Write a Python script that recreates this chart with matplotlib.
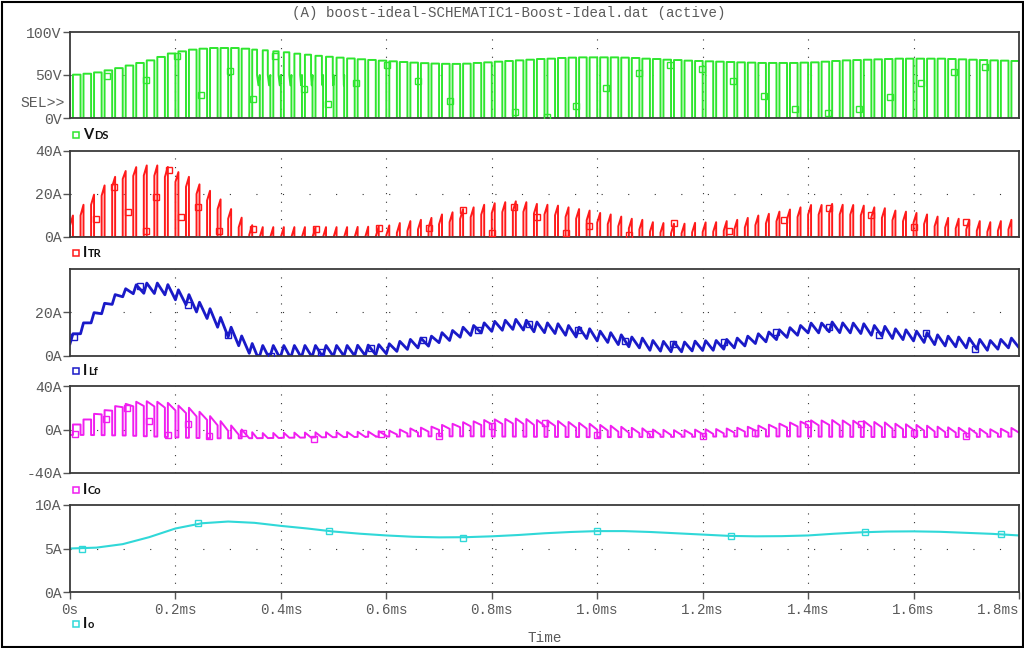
#!/usr/bin/env python3
"""
PSpice-style probe window: ideal boost converter, five stacked traces
(VDS, ITR, ILf, ICo, Io) over 1.8 ms.
"""

import matplotlib
matplotlib.use("Agg")
import matplotlib.pyplot as plt
from matplotlib.lines import Line2D
from matplotlib.patches import Rectangle

W, H = 1024, 648
MONO = "Liberation Mono"
SANS = "Lato"
TEXT_GREY = "#5a5a5a"

TITLE = "(A) boost-ideal-SCHEMATIC1-Boost-Ideal.dat (active)"

# switching cycles (time in ms)
T_SW = 0.02
DUTY = 0.28
N_CYC = 90

# output voltage level seen on VDS while the switch is off, per cycle [V]
vds_peak = [
    50.4, 51.5, 53.0, 55.4, 58.0, 61.0, 64.0, 67.0, 71.0, 75.0,
    77.5, 79.5, 80.6, 81.4, 81.4, 81.4, 80.6, 79.5, 78.7, 77.5,
    76.4, 74.8, 73.6, 72.3, 71.2, 70.2, 69.2, 68.3, 67.5, 66.7,
    65.9, 65.1, 64.4, 63.8, 63.3, 63.0, 62.9, 63.2, 64.0, 64.7,
    65.5, 66.3, 67.0, 67.8, 68.6, 69.0, 69.8, 70.2, 70.5, 70.5,
    70.5, 70.5, 70.2, 69.8, 69.0, 68.6, 67.8, 67.4, 66.7, 66.3,
    65.9, 65.5, 65.1, 64.7, 64.4, 64.0, 64.0, 64.0, 64.0, 64.4,
    64.7, 65.5, 66.3, 67.0, 67.4, 67.8, 68.2, 68.6, 69.0, 69.0,
    69.0, 69.0, 69.0, 68.6, 68.2, 67.8, 67.4, 67.0, 66.7, 66.3,
]

# inductor current at switch turn-on / turn-off, per cycle [A]
ilf_lo = [
    5.4, 10.0, 15.0, 19.2, 23.5, 27.0, 28.4, 28.6, 28.5, 27.9,
    25.6, 23.3, 20.0, 17.0, 13.0, 8.5, 4.5, 1.0, 0.0, 0.0,
    0.0, 0.0, 0.0, 0.0, 0.0, 0.0, 0.0, 0.0, 0.0, 0.3,
    0.8, 1.9, 2.8, 3.5, 4.3, 5.9, 6.9, 8.4, 9.2, 10.4,
    11.1, 11.6, 12.0, 11.7, 10.9, 10.5, 10.1, 9.3, 8.5, 7.8,
    6.7, 6.0, 5.0, 4.0, 3.5, 2.4, 2.0, 1.7, 1.7, 2.1,
    2.3, 2.4, 2.9, 3.5, 4.4, 5.5, 6.3, 7.3, 8.3, 9.3,
    10.4, 10.4, 10.9, 10.5, 10.4, 10.1, 9.3, 8.9, 7.8, 7.3,
    6.7, 6.0, 5.0, 4.4, 4.0, 3.5, 2.9, 2.4, 2.9, 3.5,
]
ilf_hi = [
    10.0, 15.0, 19.7, 24.0, 28.0, 30.7, 32.5, 33.3, 33.3, 32.6,
    30.2, 28.0, 24.5, 21.5, 17.5, 13.0, 9.0, 5.5, 4.6, 4.6,
    4.6, 4.6, 4.6, 4.6, 4.6, 4.6, 4.6, 4.7, 4.8, 5.0,
    5.4, 6.5, 7.4, 8.0, 8.9, 10.5, 11.5, 13.0, 13.8, 15.0,
    15.7, 16.2, 16.6, 16.2, 15.4, 15.0, 14.6, 13.8, 13.0, 12.3,
    11.2, 10.5, 9.5, 8.5, 8.0, 6.9, 6.5, 6.2, 6.2, 6.6,
    6.8, 6.9, 7.4, 8.0, 8.9, 10.0, 10.8, 11.8, 12.8, 13.8,
    14.9, 14.9, 15.4, 15.0, 14.9, 14.6, 13.8, 13.4, 12.3, 11.8,
    11.2, 10.5, 9.5, 8.9, 8.5, 8.0, 7.4, 6.9, 7.4, 8.0,
]
ilf_end = 3.6

# discontinuous cycles: fraction of the period where ILf reaches zero
dcm_first = 17
dcm_zero_frac = [0.74, 0.76, 0.78, 0.80, 0.83, 0.86, 0.89, 0.92, 0.95, 0.97, 0.99, 1.0]
VDS_RING_TOP = 50.0
VDS_RING_LOW = 38.0

# capacitor current: level while switch on, start / end of off interval [A]
ico_base = [
    -5.0, -5.0, -5.1, -5.2, -5.4, -5.5, -5.8, -6.2, -6.5, -6.9,
    -7.3, -7.6, -7.8, -8.0, -8.1, -8.1, -8.1, -8.0, -7.9, -7.8,
    -7.6, -7.5, -7.4, -7.2, -7.1, -7.0, -6.9, -6.8, -6.7, -6.6,
    -6.5, -6.5, -6.4, -6.3, -6.3, -6.3, -6.3, -6.3, -6.3, -6.4,
    -6.4, -6.5, -6.5, -6.6, -6.7, -6.8, -6.8, -6.9, -6.9, -7.0,
    -7.0, -7.0, -7.0, -7.0, -6.9, -6.9, -6.8, -6.8, -6.7, -6.7,
    -6.6, -6.5, -6.5, -6.4, -6.4, -6.4, -6.4, -6.4, -6.4, -6.5,
    -6.5, -6.6, -6.7, -6.7, -6.8, -6.9, -6.9, -6.9, -7.0, -7.0,
    -7.0, -7.0, -6.9, -6.9, -6.9, -6.8, -6.8, -6.7, -6.7, -6.6,
]
ico_peak = [
    4.6, 9.2, 14.4, 17.8, 21.5, 23.6, 25.5, 26.0, 25.5, 24.5,
    22.0, 20.0, 16.3, 12.3, 7.7, 3.7, 0.0, -2.5, -3.3, -3.2,
    -3.0, -2.9, -2.8, -2.6, -2.5, -2.4, -2.3, -2.1, -1.9, -1.6,
    -1.1, 0.0, 1.0, 1.7, 2.6, 4.2, 5.2, 6.7, 7.5, 8.7,
    9.3, 9.7, 10.1, 9.6, 8.7, 8.2, 7.8, 6.9, 6.1, 5.3,
    4.2, 3.5, 2.5, 1.5, 1.1, 0.0, -0.3, -0.6, -0.5, -0.1,
    0.2, 0.4, 0.9, 1.6, 2.5, 3.6, 4.4, 5.4, 6.4, 7.3,
    8.4, 8.3, 8.7, 8.3, 8.1, 7.7, 6.9, 6.5, 5.3, 4.8,
    4.2, 3.5, 2.6, 2.0, 1.6, 1.2, 0.6, 0.2, 0.7, 1.4,
]
ico_tail = [
    4.6, 9.2, 13.9, 17.3, 20.5, 21.3, 21.6, 21.2, 20.1, 17.5,
    15.1, 12.0, 8.8, 3.8, -1.3, -4.8, -8.0, -8.0, -7.9, -7.8,
    -7.6, -7.5, -7.4, -7.2, -7.1, -7.0, -6.9, -6.8, -6.3, -5.7,
    -4.6, -3.6, -2.8, -2.0, -0.4, 0.6, 2.1, 2.9, 4.1, 4.7,
    5.1, 5.5, 5.1, 4.2, 3.7, 3.3, 2.4, 1.6, 0.8, -0.3,
    -1.0, -2.0, -3.0, -3.4, -4.5, -4.8, -5.1, -5.0, -4.6, -4.3,
    -4.1, -3.6, -2.9, -2.0, -0.9, -0.1, 0.9, 1.9, 2.8, 3.9,
    3.8, 4.2, 3.8, 3.6, 3.2, 2.4, 2.0, 0.8, 0.3, -0.3,
    -1.0, -1.9, -2.5, -2.9, -3.3, -3.9, -4.3, -3.8, -3.1, -2.9,
]

# load current, sampled every 0.05 ms
io_t = [0.00, 0.05, 0.10, 0.15, 0.20, 0.25, 0.30, 0.35, 0.40, 0.45,
        0.50, 0.55, 0.60, 0.65, 0.70, 0.75, 0.80, 0.85, 0.90, 0.95,
        1.00, 1.05, 1.10, 1.15, 1.20, 1.25, 1.30, 1.35, 1.40, 1.45,
        1.50, 1.55, 1.60, 1.65, 1.70, 1.75, 1.80]
io_v = [5.00, 5.10, 5.50, 6.30, 7.30, 7.90, 8.10, 7.95, 7.60, 7.30,
        6.95, 6.70, 6.50, 6.35, 6.28, 6.30, 6.40, 6.55, 6.75, 6.90,
        7.00, 7.00, 6.90, 6.75, 6.60, 6.45, 6.40, 6.42, 6.50, 6.70,
        6.86, 6.95, 6.97, 6.92, 6.80, 6.68, 6.50]

# probe symbols drawn on the traces (time ms, value)
vds_mk_t = [0.070, 0.144, 0.203, 0.248, 0.303, 0.348, 0.388, 0.443, 0.489, 0.542,
            0.602, 0.660, 0.720, 0.844, 0.904, 0.959, 1.017, 1.079, 1.138, 1.199,
            1.257, 1.316, 1.376, 1.437, 1.497, 1.555, 1.615, 1.676, 1.736]
vds_mk_v = [48.4, 44.5, 71.6, 26.3, 55.0, 22.4, 71.6, 34.0, 16.3, 40.7,
            61.2, 43.4, 19.3, 7.0, 1.2, 13.5, 34.9, 52.3, 61.2, 57.3,
            43.4, 25.1, 10.5, 5.8, 10.5, 24.4, 40.7, 53.0, 59.3]
itr_mk_t = [0.050, 0.084, 0.110, 0.144, 0.163, 0.188, 0.210, 0.243, 0.282, 0.347,
            0.466, 0.586, 0.680, 0.745, 0.801, 0.842, 0.885, 0.940, 0.985, 1.060,
            1.145, 1.250, 1.355, 1.440, 1.520, 1.600, 1.700]
itr_mk_v = [8.3, 23.1, 11.5, 3.0, 18.8, 31.0, 9.5, 13.9, 2.6, 3.8,
            3.8, 4.2, 4.2, 12.6, 1.8, 14.1, 9.2, 1.8, 4.9, 0.7,
            6.7, 3.0, 8.0, 13.5, 10.0, 4.5, 7.0]
ilf_mk_t = [0.007, 0.132, 0.223, 0.300, 0.381, 0.476, 0.570, 0.670, 0.774, 0.871,
            0.964, 1.053, 1.143, 1.241, 1.340, 1.440, 1.535, 1.624, 1.716]
ilf_mk_v = [8.5, 31.8, 23.2, 9.3, 0.0, 1.5, 3.4, 7.0, 11.9, 14.7,
            11.6, 6.6, 5.4, 6.2, 10.8, 13.2, 9.6, 10.4, 3.1]
ico_mk_t = [0.009, 0.069, 0.109, 0.150, 0.185, 0.224, 0.263, 0.328, 0.463, 0.590,
            0.700, 0.800, 0.900, 1.000, 1.100, 1.200, 1.300, 1.400, 1.500, 1.600, 1.700]
ico_mk_v = [-4.0, 9.8, 20.0, 7.7, -4.6, 5.2, -6.1, -3.0, -8.3, -4.0,
            -6.0, 3.0, 6.0, -5.0, -4.0, -6.0, -3.0, 5.0, 5.0, -3.0, -6.0]
io_mk_t = [0.023, 0.243, 0.492, 0.746, 0.999, 1.253, 1.507, 1.765]
io_mk_v = [5.0, 7.9, 7.0, 6.2, 7.0, 6.4, 6.85, 6.65]

X_TICKS = [0.0, 0.2, 0.4, 0.6, 0.8, 1.0, 1.2, 1.4, 1.6, 1.8]
X_LABELS = ["0s", "0.2ms", "0.4ms", "0.6ms", "0.8ms", "1.0ms",
            "1.2ms", "1.4ms", "1.6ms", "1.8ms"]

COL_VDS = "#2ee62e"
COL_ITR = "#ff1a1a"
COL_ILF = "#1a1ac8"
COL_ICO = "#f01ef0"
COL_IO = "#30d8d8"


def dcm_frac(k):
    i = k - dcm_first
    if 0 <= i < len(dcm_zero_frac):
        return dcm_zero_frac[i]
    return None


def build_vds():
    t, v = [], []
    for k in range(N_CYC):
        t0 = k * T_SW
        t1 = t0 + DUTY * T_SW
        t2 = t0 + T_SW
        vp = vds_peak[k]
        t += [t0, t1, t1]
        v += [0.0, 0.0, vp]
        f = dcm_frac(k)
        if f is not None and f < 0.97:
            tz = t0 + f * T_SW
            t += [tz, tz, tz + 0.5 * (t2 - tz), t2]
            v += [vp, VDS_RING_TOP, VDS_RING_LOW, VDS_RING_TOP]
        else:
            t.append(t2)
            v.append(vp)
        t.append(t2)
        v.append(0.0)
    return t, v


def build_itr():
    t, v = [], []
    for k in range(N_CYC):
        t0 = k * T_SW
        t1 = t0 + DUTY * T_SW
        t += [t0, t0, t1, t1]
        v += [0.0, ilf_lo[k], ilf_hi[k], 0.0]
    t.append(N_CYC * T_SW)
    v.append(0.0)
    return t, v


def build_ilf():
    t, v = [], []
    for k in range(N_CYC):
        t0 = k * T_SW
        t1 = t0 + DUTY * T_SW
        t += [t0, t1]
        v += [ilf_lo[k], ilf_hi[k]]
        f = dcm_frac(k)
        if f is not None and f < 1.0:
            t.append(t0 + f * T_SW)
            v.append(0.0)
    t.append(N_CYC * T_SW)
    v.append(ilf_end)
    return t, v


def build_ico():
    t, v = [], []
    for k in range(N_CYC):
        t0 = k * T_SW
        t1 = t0 + DUTY * T_SW
        t2 = t0 + T_SW
        t += [t0, t1, t1]
        v += [ico_base[k], ico_base[k], ico_peak[k]]
        f = dcm_frac(k)
        if f is not None and f < 1.0:
            t += [t0 + f * T_SW, t2]
            v += [ico_base[k], ico_base[k]]
        else:
            t.append(t2)
            v.append(ico_tail[k])
    return t, v


fig = plt.figure(figsize=(W / 100, H / 100), dpi=100)


def add_panel(top, bottom):
    return fig.add_axes([70 / W, 1 - bottom / H, 949 / W, (bottom - top) / H])


def style_panel(ax, ylim, yticks, ylabels, hgrid_at, hgrid_gap, bottom=False):
    ax.set_xlim(0, 1.8)
    ax.set_ylim(*ylim)
    for s in ax.spines.values():
        s.set_color("#3a3a3a")
        s.set_linewidth(1.3)
    ax.set_yticks(yticks)
    ax.set_yticklabels(ylabels, family=MONO, fontsize=10.6, color=TEXT_GREY)
    ax.tick_params(axis="y", direction="out", length=5, width=1, color="#555555", pad=1)
    ax.set_xticks(X_TICKS)
    if bottom:
        ax.set_xticklabels(X_LABELS, family=MONO, fontsize=10.2, color=TEXT_GREY)
        ax.tick_params(axis="x", direction="out", length=5, width=1, color="#555555", pad=3)
        ax.get_xticklabels()[-1].set_ha("right")
    else:
        ax.tick_params(axis="x", length=0, labelbottom=False)
    # dotted PSpice-like grid
    for gx in X_TICKS[1:-1]:
        ax.axvline(gx, color="#333333", lw=0.8, ls=(0, (1, 6.8)), zorder=1)
    ax.axhline(hgrid_at, color="#333333", lw=0.8, ls=(0, (1, hgrid_gap)), zorder=1)


def legend_entry(y_px, color, main, sub, host):
    y = 1 - y_px / H
    fig.add_artist(Line2D([76 / W], [y], marker="s", ms=5, mfc="none", mec=color,
                          mew=1.1, transform=fig.transFigure))
    t1 = fig.text(83 / W, y, main, family=SANS, fontsize=10.5, fontweight="bold",
                  color="#111111", va="center", ha="left")
    host.annotate(sub, xy=(1, 0), xycoords=t1, xytext=(0.4, 0.5),
                  textcoords="offset points", family=SANS, fontsize=8,
                  fontweight="bold", color="#111111", va="bottom", ha="left",
                  annotation_clip=False)


# --- VDS ---
ax1 = add_panel(32, 118)
style_panel(ax1, (0, 100), [0, 50, 100], ["0V", "50V", "100V"], 50, 46.6)
tv, vv = build_vds()
ax1.plot(tv, vv, color=COL_VDS, lw=1.4, zorder=2)
ax1.plot(vds_mk_t, vds_mk_v, "s", ms=4.5, mfc="none", mec=COL_VDS, mew=1, zorder=3)
fig.text(65 / W, 1 - 103 / H, "SEL>>", family=MONO, fontsize=10.6, color=TEXT_GREY,
         ha="right", va="center")
legend_entry(135, COL_VDS, "V", "DS", ax1)

# --- ITR ---
ax2 = add_panel(151, 237)
style_panel(ax2, (0, 40), [0, 20, 40], ["0A", "20A", "40A"], 20, 22.9)
ti, vi = build_itr()
ax2.plot(ti, vi, color=COL_ITR, lw=1.4, zorder=2)
ax2.plot(itr_mk_t, itr_mk_v, "s", ms=4.5, mfc="none", mec=COL_ITR, mew=1, zorder=3)
legend_entry(253, COL_ITR, "I", "TR", ax2)

# --- ILf ---
ax3 = add_panel(268.5, 355.5)
style_panel(ax3, (0, 40), [0, 20], ["0A", "20A"], 20, 22.9)
tl, vl = build_ilf()
ax3.plot(tl, vl, color=COL_ILF, lw=2.0, zorder=2)
ax3.plot(ilf_mk_t, ilf_mk_v, "s", ms=4.5, mfc="none", mec=COL_ILF, mew=1, zorder=3)
legend_entry(371, COL_ILF, "I", "Lf", ax3)

# --- ICo ---
ax4 = add_panel(386, 473)
style_panel(ax4, (-40, 40), [-40, 0, 40], ["-40A", "0A", "40A"], 0, 22.9)
tc, vc = build_ico()
ax4.plot(tc, vc, color=COL_ICO, lw=1.4, zorder=2)
ax4.plot(ico_mk_t, ico_mk_v, "s", ms=4.5, mfc="none", mec=COL_ICO, mew=1, zorder=3)
legend_entry(490, COL_ICO, "I", "Co", ax4)

# --- Io ---
ax5 = add_panel(505, 592)
style_panel(ax5, (0, 10), [0, 5, 10], ["0A", "5A", "10A"], 5, 22.9, bottom=True)
ax5.plot(io_t, io_v, color=COL_IO, lw=1.5, zorder=2)
ax5.plot(io_mk_t, io_mk_v, "s", ms=4.5, mfc="none", mec=COL_IO, mew=1, zorder=3)
legend_entry(624, COL_IO, "I", "o", ax5)

fig.text(545 / W, 1 - 638 / H, "Time", family=MONO, fontsize=10.4, color=TEXT_GREY,
         ha="center", va="center")
fig.text(509 / W, 1 - 13 / H, TITLE, family=MONO, fontsize=10.2, color=TEXT_GREY,
         ha="center", va="center")

fig.add_artist(Rectangle((1.5 / W, 1.5 / H), (W - 3) / W, (H - 3) / H,
                         transform=fig.transFigure, fill=False, ec="black", lw=1.5))

fig.savefig("out.png", dpi=100)
